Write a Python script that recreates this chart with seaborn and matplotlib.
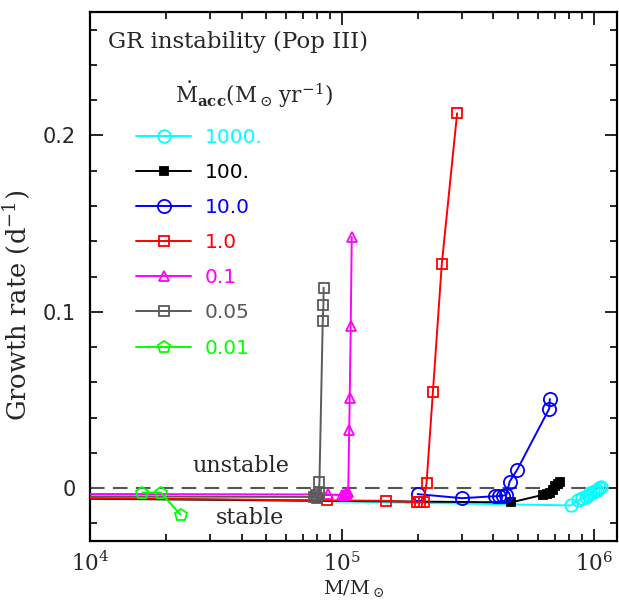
import math
import matplotlib
matplotlib.use("Agg")
import matplotlib.pyplot as plt
import matplotlib.ticker as mticker
import seaborn as sns

# growth rate (1/day) vs stellar mass (Msun), one pair of lists per accretion rate
# first point of most tracks sits left of the axis so the line runs in from the edge
mass_1000 = [3e3, 8.1e5, 8.7e5, 9.0e5, 9.3e5, 9.5e5, 9.7e5, 9.9e5, 1.01e6, 1.03e6, 1.05e6, 1.07e6]
rate_1000 = [-0.0040, -0.0098, -0.0068, -0.0058, -0.0048, -0.0040, -0.0030, -0.0022, -0.0014, -0.0008, -0.0002, 0.0004]

mass_100 = [3e3, 4.7e5, 6.3e5, 6.5e5, 6.7e5, 6.9e5, 7.05e5, 7.2e5, 7.35e5]
rate_100 = [-0.0054, -0.0081, -0.0038, -0.0033, -0.0027, -0.0010, 0.0010, 0.0025, 0.0037]

mass_10 = [2.0e5, 3.0e5, 4.05e5, 4.2e5, 4.35e5, 4.5e5, 4.64e5, 4.97e5, 6.66e5, 6.70e5]
rate_10 = [-0.0034, -0.0057, -0.0046, -0.0045, -0.0043, -0.0040, 0.0037, 0.0104, 0.0450, 0.0505]

mass_1 = [3e3, 8.7e4, 1.5e5, 1.98e5, 2.05e5, 2.12e5, 2.17e5, 2.30e5, 2.495e5, 2.87e5]
rate_1 = [-0.0050, -0.0070, -0.0072, -0.0080, -0.0080, -0.0076, 0.0028, 0.0545, 0.1271, 0.2126]

mass_01 = [3e3, 8.8e4, 1.0e5, 1.02e5, 1.035e5, 1.05e5, 1.06e5, 1.07e5, 1.075e5, 1.085e5, 1.095e5]
rate_01 = [-0.0032, -0.0036, -0.0040, -0.0040, -0.0036, -0.0030, -0.0020, 0.0330, 0.0509, 0.0918, 0.1424]

mass_005 = [3e3, 7.75e4, 7.9e4, 8.0e4, 8.1e4, 8.15e4, 8.4e4, 8.45e4, 8.47e4]
rate_005 = [-0.0045, -0.0050, -0.0040, -0.0055, -0.0030, 0.0035, 0.0947, 0.1037, 0.1137]

mass_001 = [1.615e4, 1.91e4, 2.29e4]
rate_001 = [-0.0025, -0.0025, -0.0151]

labels = ["1000.", "100.", "10.0", "1.0", "0.1", "0.05", "0.01"]
colors = ["#00ffff", "#000000", "#0000ff", "#ff0000", "#ff00ff", "#5a5a5a", "#00ff00"]

sns.set_theme(style="ticks")
plt.rcParams["font.family"] = ["DejaVu Serif"]
plt.rcParams["mathtext.fontset"] = "dejavuserif"

fig, ax = plt.subplots(figsize=(6.19, 6.03), dpi=100)
fig.subplots_adjust(left=0.1454, right=0.997, bottom=0.1028, top=0.980)

ax.axhline(0, color="#555555", lw=1.5, ls=(0, (7, 4)), zorder=1)

tracks = [
    (mass_1000, rate_1000, "o", False, 9),
    (mass_100, rate_100, "s", True, 6),
    (mass_10, rate_10, "o", False, 9.5),
    (mass_1, rate_1, "s", False, 6.5),
    (mass_01, rate_01, "^", False, 7.5),
    (mass_005, rate_005, "s", False, 6.5),
    (mass_001, rate_001, "p", False, 9),
]
for (m, g, mk, filled, ms), lab, c in zip(tracks, labels, colors):
    sns.lineplot(x=m, y=g, ax=ax, color=c, marker=mk, markersize=ms,
                 markerfacecolor=c if filled else "none", markeredgecolor=c,
                 markeredgewidth=1.3, linewidth=1.4, sort=False,
                 estimator=None, label=lab, zorder=3)

ax.set_xscale("log")
ax.set_xlim(1e4, 1.24e6)
ax.set_ylim(-0.03, 0.27)

ax.xaxis.set_major_locator(mticker.FixedLocator([1e4, 1e5, 1e6]))
ax.xaxis.set_major_formatter(mticker.FuncFormatter(
    lambda v, p: r"$\mathrm{10^{%d}}$" % round(math.log10(v))))
ax.xaxis.set_minor_locator(mticker.LogLocator(base=10, subs=range(2, 10)))
ax.xaxis.set_minor_formatter(mticker.NullFormatter())
ax.yaxis.set_major_locator(mticker.FixedLocator([0, 0.1, 0.2]))
ax.yaxis.set_major_formatter(mticker.FixedFormatter(["0", "0.1", "0.2"]))
ax.yaxis.set_minor_locator(mticker.MultipleLocator(0.02))

ax.tick_params(which="both", direction="in", top=True, right=True,
               color="black", width=1.2)
ax.tick_params(which="major", length=9)
ax.tick_params(which="minor", length=5)
ax.tick_params(axis="x", labelsize=15.5, pad=8)
ax.tick_params(axis="y", labelsize=15, pad=10)
for t in ax.get_yticklabels():
    t.set_fontfamily("DejaVu Sans")
for s in ax.spines.values():
    s.set_linewidth(1.6)
    s.set_color("black")

ax.set_xlabel(r"$\mathrm{M/M_\odot}$", fontsize=14, labelpad=1)
ax.set_ylabel("Growth rate (d$^{-1}$)", fontsize=18.5)
ax.yaxis.set_label_coords(-0.11, 0.446)

ax.text(0.034, 0.943, "GR instability (Pop III)", transform=ax.transAxes,
        fontsize=16.5, ha="left", va="center")
ax.text(0.161, 0.843, r"$\dot{\mathrm{M}}_{\mathbf{acc}}(\mathrm{M}_\odot\,\mathrm{yr}^{-1})$",
        transform=ax.transAxes, fontsize=15.5, ha="left", va="center")
ax.text(3.99e4, 0.0126, "unstable", fontsize=16, ha="center", va="center")
ax.text(4.33e4, -0.0168, "stable", fontsize=16, ha="center", va="center")

handles, labs = ax.get_legend_handles_labels()
ax.legend(handles, labs, loc="upper left", bbox_to_anchor=(0.088, 0.781),
          frameon=False, labelcolor="linecolor", handlelength=2.7,
          handletextpad=0.7, labelspacing=0.8, borderpad=0, borderaxespad=0,
          prop={"family": "DejaVu Sans", "size": 14.5})

fig.savefig("out.png", dpi=100)
